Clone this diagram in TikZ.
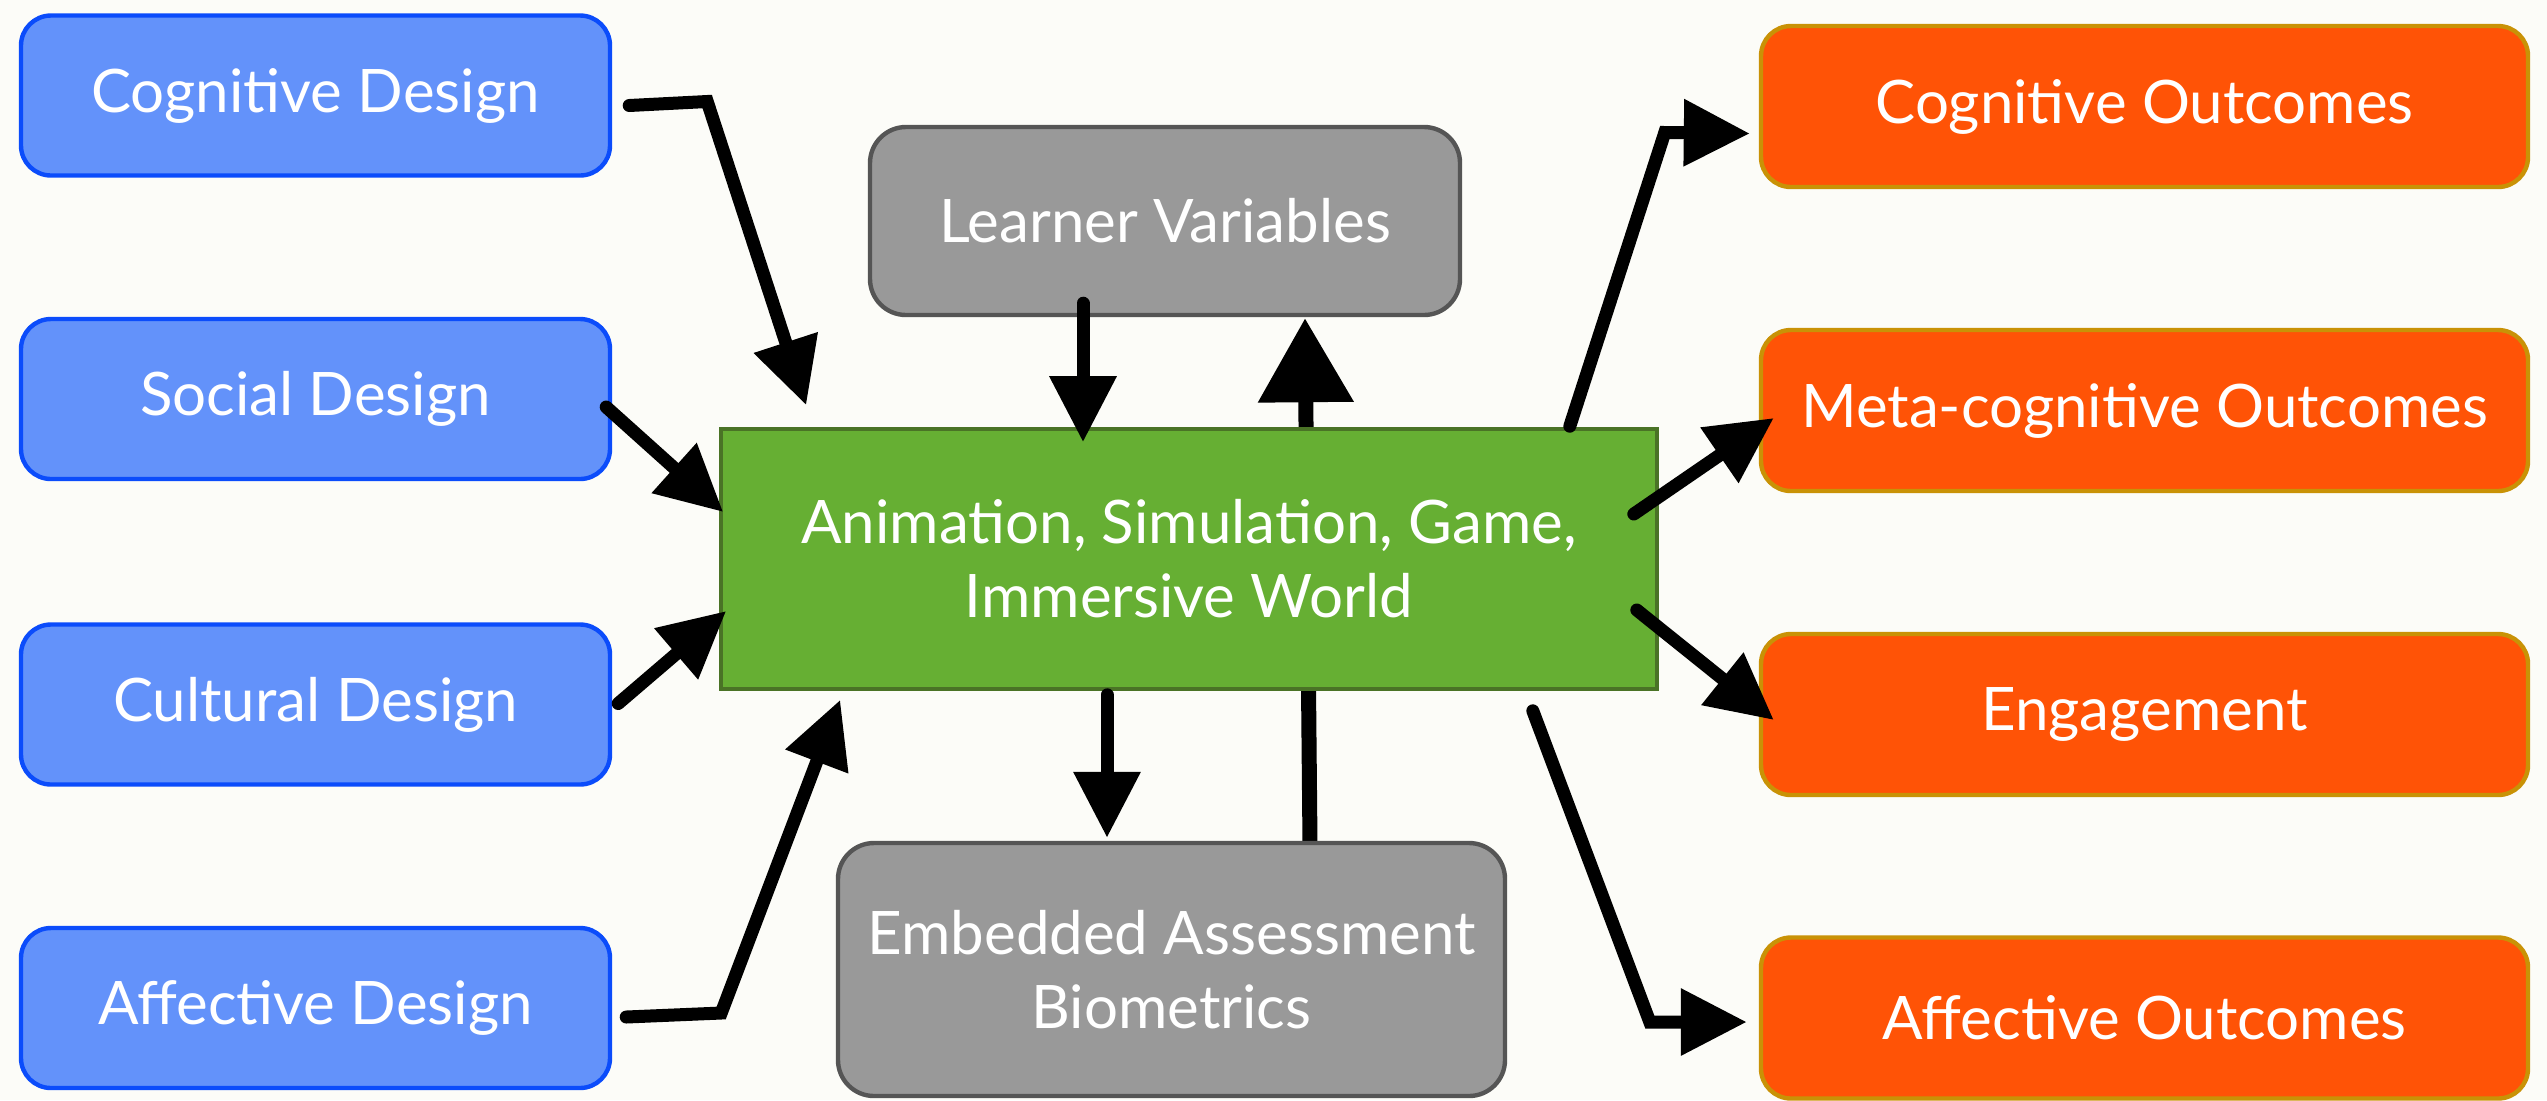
\documentclass[tikz,border=0pt]{standalone}
\usepackage{fontspec}
\setmainfont{Lato}
\usetikzlibrary{arrows.meta,calc}
\definecolor{bgcol}{HTML}{FCFCF8}
\definecolor{bluefill}{HTML}{6392FA}
\definecolor{blueline}{HTML}{0B4CFB}
\definecolor{grayfill}{HTML}{999999}
\definecolor{grayline}{HTML}{555555}
\definecolor{greenfill}{HTML}{66AF33}
\definecolor{greenline}{HTML}{4A7326}
\definecolor{orangefill}{HTML}{FF5306}
\definecolor{orangeline}{HTML}{C99206}
\pgfdeclarelayer{back}
\pgfdeclarelayer{behind}
\pgfsetlayers{back,behind,main}
\begin{document}
\begin{tikzpicture}[x=0.5pt,y=-0.5pt,
  box/.style={line width=2.2pt, text=white, align=center, inner sep=0pt,
    font=\fontsize{30}{37}\selectfont},
  design/.style={box, rounded corners=15pt, fill=bluefill, draw=blueline,
    minimum width=294.5pt, minimum height=80pt},
  outcome/.style={box, rounded corners=15pt, fill=orangefill, draw=orangeline,
    minimum width=383.5pt, minimum height=80.5pt},
  graybox/.style={box, rounded corners=18pt, fill=grayfill, draw=grayline},
  centerbox/.style={box, line width=1.8pt, fill=greenfill, draw=greenline,
    minimum width=468pt, minimum height=130pt},
  arr/.style={draw=black, line width=6.5pt, line cap=round, line join=miter,
    -{Triangle[length=33pt,width=32pt]}},
  bigarr/.style={draw=black, line width=7.5pt, line cap=round,
    -{Triangle[length=42pt,width=46pt]}}
]
\begin{pgfonlayer}{back}
\fill[bgcol] (0,0) rectangle (2547,1100);
\end{pgfonlayer}
\useasboundingbox (0,0) rectangle (2547,1100);

% left column
\node[design] (cogd) at (315.5,95.5) {Cognitive Design};
\node[design] (socd) at (315.5,399) {Social Design};
\node[design] (culd) at (315.5,704.5) {Cultural Design};
\node[design] (affd) at (315.5,1008) {Affective Design};

% middle column
\node[graybox, minimum width=295pt, minimum height=94pt] (learn) at (1165,221) {Learner Variables};
\node[centerbox] (game) at (1189,559) {Animation, Simulation, Game,\\Immersive World};
\node[graybox, minimum width=333.5pt, minimum height=126.5pt] (embed) at (1171.5,969.5) {Embedded Assessment\\Biometrics};

% right column
\node[outcome] (cogo) at (2144.5,106.5) {Cognitive Outcomes};
\node[outcome] (meta) at (2144.5,410.5) {Meta-cognitive Outcomes};
\node[outcome] (enga) at (2144.5,714.5) {Engagement};
\node[outcome] (affo) at (2144.5,1018) {Affective Outcomes};

% arrow passing behind the central box
\begin{pgfonlayer}{behind}
\draw[bigarr] ($(embed.north)+(138.5,4)$) -- ($(learn.south)+(140,1)$);
\end{pgfonlayer}

% inputs
\draw[arr] ($(cogd.east)+(17,10)$) -- ($(cogd.east)+(95,6)$) -- ($(game.north west)+(87,-22)$);
\draw[arr] ($(socd.east)+(-6,8)$) -- ($(game.west)+(4,-47)$);
\draw[arr] ($(culd.east)+(6,-1)$) -- ($(game.west)+(7,52)$);
\draw[arr] ($(affd.east)+(14,9)$) -- ($(affd.east)+(109,5)$) -- ($(game.south west)+(121,9)$);

% learner / assessment
\draw[arr] ($(learn.south)+(-82,-14)$) -- ($(game.north)+(-106,15)$);
\draw[arr] ($(game.south)+(-82,4)$) -- ($(embed.north)+(-64.5,-3)$);

% outputs
\draw[arr] ($(game.north east)+(-89,-1)$) -- ($(cogo.west)+(-94,26)$) -- ($(cogo.west)+(-9,27)$);
\draw[arr] ($(game.east)+(-25,-45)$) -- ($(meta.west)+(15,7.5)$);
\draw[arr] ($(game.east)+(-22,51)$) -- ($(enga.west)+(15,5.5)$);
\draw[arr] ($(game.south east)+(-126,20)$) -- ($(affo.west)+(-109,4)$) -- ($(affo.west)+(-12,4)$);
\end{tikzpicture}
\end{document}
